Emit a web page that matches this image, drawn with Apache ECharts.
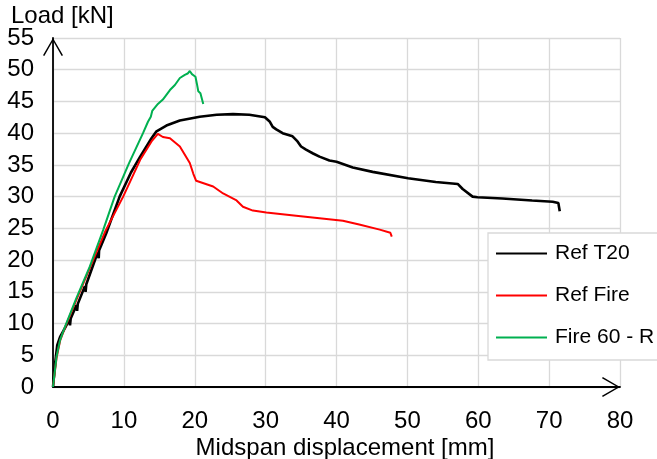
<!DOCTYPE html>
<html>
<head>
<meta charset="utf-8">
<script src="https://cdn.jsdelivr.net/npm/echarts@6/dist/echarts.min.js"></script>
<style>
html,body{margin:0;padding:0;background:#fff;}
#chart{width:657px;height:459px;}
</style>
</head>
<body>
<div id="chart"></div>
<script>
// ---- data ----
const seriesNames = ['Ref T20', 'Ref Fire', 'Fire 60 - R'];

const refT20X = [0, 0.3, 0.6, 1.0, 1.7, 2.3, 2.4, 2.5, 3.3, 3.4, 3.5, 4.5, 4.6, 4.7, 6.3, 6.45, 6.5, 7.5, 9.4, 11.0, 12.3, 13.9, 14.6, 16.0, 17.9, 20.7, 23.1, 25.4, 27.7, 29.9, 30.6, 31.0, 31.5, 32.4, 33.8, 34.5, 35.0, 35.7, 36.7, 37.6, 39.0, 40.0, 42.3, 45.1, 50.1, 54.0, 57.1, 57.8, 59.2, 59.9, 63.4, 67.6, 70.5, 71.3, 71.5];
const refT20Y = [0, 3.7, 6.6, 7.9, 9.3, 10.6, 9.7, 10.8, 12.9, 12.0, 13.1, 15.9, 15.0, 16.2, 21.2, 20.3, 21.5, 24.2, 30.0, 33.8, 36.3, 39.2, 40.3, 41.2, 42.0, 42.6, 42.9, 43.0, 42.9, 42.5, 41.8, 41.0, 40.6, 40.0, 39.5, 38.7, 37.9, 37.4, 36.8, 36.3, 35.7, 35.5, 34.6, 33.9, 32.9, 32.3, 32.0, 31.2, 30.0, 29.9, 29.7, 29.4, 29.2, 29.0, 27.7];

const refFireX = [0, 0.5, 1.0, 1.7, 3.4, 5.3, 7.4, 9.9, 12.3, 13.9, 14.8, 15.5, 16.5, 17.9, 19.3, 19.8, 20.2, 22.6, 24.0, 25.9, 26.8, 28.2, 30.1, 34.3, 37.6, 40.9, 43.2, 46.1, 47.6, 47.8];
const refFireY = [0, 4.6, 7.3, 9.4, 14.0, 19.0, 24.6, 30.0, 35.8, 38.7, 39.9, 39.4, 39.2, 37.9, 35.3, 33.6, 32.5, 31.6, 30.5, 29.4, 28.4, 27.8, 27.5, 27.0, 26.6, 26.2, 25.6, 24.8, 24.3, 23.7];

const fire60X = [0, 0.5, 1.0, 1.7, 3.3, 5.2, 7.1, 8.7, 10.7, 12.7, 13.4, 13.8, 14.0, 14.1, 14.8, 15.5, 16.5, 17.2, 17.9, 18.6, 19.0, 19.3, 19.6, 20.1, 20.3, 20.5, 20.8, 21.2];
const fire60Y = [0, 4.8, 7.4, 9.5, 14.0, 19.0, 24.8, 30.0, 35.2, 40.0, 41.8, 42.6, 43.5, 43.2, 44.6, 45.3, 46.8, 47.6, 48.7, 49.2, 49.4, 49.8, 49.3, 48.9, 47.8, 46.6, 46.3, 44.6];

const xTicks = {min: 0, max: 80, interval: 10};
const yTicks = {min: 0, max: 55, interval: 5};

// ---- build ----
function pairs(xs, ys) { return xs.map((x, i) => [x, ys[i]]); }

const FONT = 'Liberation Sans, Arial, sans-serif';
const chevron = 'path://M0,17.2 L10,0 L20,17.2 L18.7,18 L10,2.7 L1.3,18 Z';

const chart = echarts.init(document.getElementById('chart'), null, {renderer: 'canvas'});
chart.setOption({
  animation: false,
  backgroundColor: '#ffffff',
  title: {
    text: 'Load [kN]', left: 11, top: 4, padding: 0,
    textStyle: {fontFamily: FONT, fontSize: 24, fontWeight: 'normal', color: '#000'}
  },
  grid: {left: 53, right: 37, top: 38, bottom: 72, containLabel: false, outerBoundsMode: 'none'},
  legend: {
    orient: 'vertical', left: 488, top: 233,
    padding: [10, 12, 12, 8],
    itemGap: 21, itemWidth: 51, itemHeight: 14,
    backgroundColor: '#ffffff', borderColor: '#d9d9d9', borderWidth: 1.3,
    textStyle: {fontFamily: FONT, fontSize: 21, color: '#000', padding: [0, 0, 0, 3]},
    data: seriesNames.map(n => ({name: n, icon: 'path://M0,6 L51,6 L51,8 L0,8 Z'}))
  },
  xAxis: {
    type: 'value', min: xTicks.min, max: xTicks.max, interval: xTicks.interval,
    name: 'Midspan displacement [mm]', nameLocation: 'middle', nameGap: 49, nameMoveOverlap: false,
    nameTextStyle: {fontFamily: FONT, fontSize: 24, color: '#000', padding: [0, 0, 0, 17]},
    axisLine: {show: true, onZero: false, lineStyle: {color: '#000', width: 1.8},
      symbol: ['none', chevron], symbolSize: [22, 18], symbolOffset: [0, -9]},
    axisTick: {show: false},
    axisLabel: {fontFamily: FONT, fontSize: 24, color: '#000', margin: 22},
    splitLine: {show: true, lineStyle: {color: '#d9d9d9', width: 1.3}}
  },
  yAxis: {
    type: 'value', min: yTicks.min, max: yTicks.max, interval: yTicks.interval,
    axisLine: {show: true, onZero: false, lineStyle: {color: '#000', width: 1.8},
      symbol: ['none', chevron], symbolSize: [20, 18], symbolOffset: [0, -9]},
    axisTick: {show: false},
    axisLabel: {fontFamily: FONT, fontSize: 24, color: '#000', margin: 19},
    splitLine: {show: true, lineStyle: {color: '#d9d9d9', width: 1.3}}
  },
  series: [
    {name: seriesNames[0], type: 'line', data: pairs(refT20X, refT20Y), symbol: 'none',
      lineStyle: {color: '#000000', width: 2.6}, itemStyle: {color: '#000000'}, z: 3},
    {name: seriesNames[1], type: 'line', data: pairs(refFireX, refFireY), symbol: 'none',
      lineStyle: {color: '#ff0000', width: 2}, itemStyle: {color: '#ff0000'}, z: 4},
    {name: seriesNames[2], type: 'line', data: pairs(fire60X, fire60Y), symbol: 'none',
      lineStyle: {color: '#00b050', width: 2}, itemStyle: {color: '#00b050'}, z: 5}
  ]
});
</script>
</body>
</html>
